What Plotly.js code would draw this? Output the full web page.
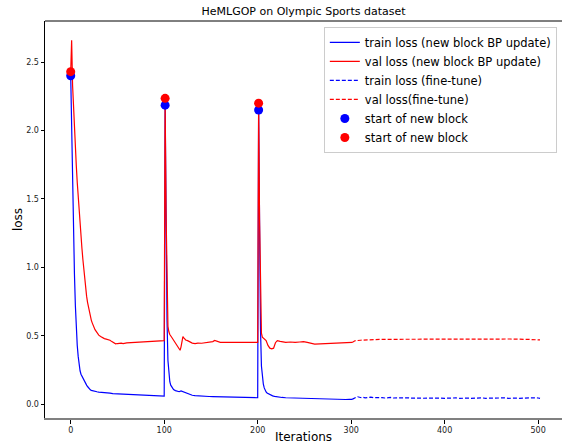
<!DOCTYPE html>
<html>
<head>
<meta charset="utf-8">
<script src="https://cdn.plot.ly/plotly-3.0.1.min.js"></script>
<style>html,body{margin:0;padding:0;background:#fff;}#chart{width:562px;height:444px;}</style>
</head>
<body>
<div id="chart"></div>
<script>
// ---- data ----
const trainBPIter = [0,1,2,3,4,5,6,7,8,9,10,11,12,13,14,15,16,17,18,19,20,21,22,24,26,28,30,33,36,39,42,45,48,51,54,57,60,63,66,69,72,75,78,81,84,87,90,93,96,99,100,
  101,102,103,104,105,106,107,108,109,110,112,114,116,118,120,122,124,126,128,130,133,136,140,144,148,152,156,160,164,168,172,176,180,184,188,192,196,200,
  201,202,203,204,205,206,207,208,209,210,212,214,216,218,220,223,226,230,234,238,242,246,250,254,258,262,266,270,274,278,282,286,290,294,298,301];
const trainBPLoss = [2.40,1.95,1.55,1.22,0.95,0.72,0.55,0.43,0.35,0.29,0.245,0.22,0.205,0.195,0.185,0.17,0.155,0.14,0.13,0.12,0.112,0.106,0.102,0.097,0.094,0.092,0.089,0.088,0.085,0.083,0.082,0.078,0.077,0.075,0.074,0.072,0.071,0.068,0.069,0.066,0.067,0.064,0.063,0.064,0.062,0.061,0.062,0.060,0.061,0.059,0.060,
  2.185,1.25,0.62,0.32,0.21,0.165,0.14,0.125,0.115,0.108,0.100,0.095,0.092,0.098,0.092,0.086,0.080,0.074,0.070,0.066,0.063,0.061,0.059,0.058,0.057,0.056,0.055,0.055,0.054,0.056,0.053,0.052,0.051,0.052,0.050,0.049,0.050,0.048,
  2.15,1.20,0.55,0.28,0.19,0.15,0.12,0.10,0.09,0.082,0.074,0.068,0.062,0.058,0.055,0.052,0.050,0.048,0.047,0.046,0.045,0.044,0.044,0.043,0.042,0.040,0.038,0.036,0.037,0.035,0.036,0.035,0.036,0.035,0.037,0.036];

const valBPIter = [0,1,2,3,4,5,6,7,8,9,10,11,12,13,14,15,16,17,18,19,20,21,22,23,24,25,26,28,30,32,34,36,38,40,42,44,46,48,50,52,54,56,58,60,100,
  101,102,103,104,105,106,108,110,112,114,116,117,118,119,120,121,123,125,127,130,133,136,140,144,148,152,154,156,158,160,200,
  201,202,203,204,205,207,209,211,213,215,217,219,221,224,227,230,235,240,245,249,253,257,261,301];
const valBPLoss = [2.43,2.66,2.33,2.15,2.00,1.87,1.74,1.62,1.51,1.41,1.31,1.22,1.14,1.06,0.98,0.91,0.85,0.79,0.745,0.705,0.67,0.64,0.615,0.595,0.575,0.56,0.545,0.525,0.505,0.495,0.485,0.48,0.476,0.474,0.468,0.458,0.448,0.442,0.444,0.448,0.447,0.443,0.447,0.449,0.465,
  2.235,1.40,0.75,0.57,0.53,0.51,0.49,0.47,0.45,0.43,0.41,0.395,0.42,0.47,0.495,0.485,0.47,0.465,0.458,0.447,0.443,0.447,0.446,0.45,0.451,0.458,0.466,0.46,0.455,0.453,0.453,
  2.20,1.35,0.70,0.52,0.49,0.475,0.465,0.43,0.41,0.405,0.41,0.45,0.465,0.46,0.455,0.453,0.455,0.452,0.455,0.458,0.452,0.445,0.44,0.452];

const trainFTIter = [301,303,305,307,309,311,313,315,318,321,324,327,330,333,336,339,342,345,348,351,354,357,360,364,368,372,376,380,384,388,392,396,400,404,408,412,416,420,424,428,432,436,440,444,448,452,456,460,464,468,472,476,480,484,488,492,496,500,502];
const trainFTLoss = [0.036,0.045,0.050,0.055,0.050,0.048,0.051,0.047,0.049,0.052,0.048,0.050,0.047,0.049,0.046,0.048,0.050,0.046,0.047,0.045,0.047,0.046,0.048,0.045,0.047,0.046,0.044,0.047,0.045,0.046,0.048,0.045,0.044,0.046,0.045,0.047,0.044,0.046,0.045,0.044,0.046,0.045,0.047,0.044,0.045,0.046,0.044,0.045,0.047,0.044,0.046,0.045,0.044,0.046,0.047,0.045,0.048,0.046,0.043];

const valFTIter = [301,304,310,320,330,350,370,390,410,430,450,470,490,502];
const valFTLoss = [0.452,0.464,0.468,0.472,0.474,0.475,0.476,0.477,0.479,0.478,0.479,0.477,0.474,0.470];

const blockStartIter = [0,101,201];
const blockStartTrain = [2.40,2.185,2.15];
const blockStartVal = [2.43,2.235,2.20];

const xTicks = [0,100,200,300,400,500];
const yTicks = [0.0,0.5,1.0,1.5,2.0,2.5];

const BLUE = '#0000ff', RED = '#ff0000';
const traces = [
  {x: trainBPIter, y: trainBPLoss, mode: 'lines', name: 'train loss (new block BP update)', line: {color: BLUE, width: 1.2}},
  {x: valBPIter, y: valBPLoss, mode: 'lines', name: 'val loss (new block BP update)', line: {color: RED, width: 1.2}},
  {x: trainFTIter, y: trainFTLoss, mode: 'lines', name: 'train loss (fine-tune)', line: {color: BLUE, width: 1.2, dash: '4px,2px'}},
  {x: valFTIter, y: valFTLoss, mode: 'lines', name: 'val loss(fine-tune)', line: {color: RED, width: 1.2, dash: '4px,2px'}},
  {x: blockStartIter, y: blockStartTrain, mode: 'markers', name: 'start of new block', marker: {color: BLUE, size: 9}},
  {x: blockStartIter, y: blockStartVal, mode: 'markers', name: 'start of new block', marker: {color: RED, size: 9}}
];

const layout = {
  width: 562, height: 444,
  margin: {l: 45, r: 0, t: 21, b: 26},
  paper_bgcolor: '#fff', plot_bgcolor: '#fff',
  font: {family: 'DejaVu Sans, sans-serif', color: '#000'},
  title: {text: 'HeMLGOP on Olympic Sports dataset', font: {size: 11, color: '#000'}, x: 0.5, xref: 'paper', y: 0.975, yref: 'container', yanchor: 'middle'},
  xaxis: {
    range: [-27.5, 525.5], tickvals: xTicks, ticktext: xTicks.map(String),
    ticks: 'outside', ticklen: 3.5, tickwidth: 1, tickcolor: '#000',
    tickfont: {size: 8, color: '#222'},
    showgrid: false, zeroline: false, showline: true, linecolor: '#808080', linewidth: 2,
    title: {text: 'Iterations', font: {size: 12, color: '#000'}, standoff: 2},
    automargin: false
  },
  yaxis: {
    range: [-0.1, 2.8], tickvals: yTicks, ticktext: yTicks.map(v => v.toFixed(1)),
    ticks: 'outside', ticklen: 3.5, tickwidth: 1, tickcolor: '#000',
    tickfont: {size: 8, color: '#222'},
    showgrid: false, zeroline: false, showline: true, linecolor: '#000', linewidth: 1,
    title: {text: 'loss', font: {size: 12, color: '#000'}, standoff: 0},
    automargin: true
  },
  shapes: [{type: 'line', xref: 'paper', yref: 'paper', x0: 0, x1: 1, y0: 1, y1: 1, line: {color: '#000', width: 1}}],
  legend: {
    x: 0.99, y: 0.985, xanchor: 'right', yanchor: 'top',
    bgcolor: 'rgba(255,255,255,0.8)', bordercolor: '#cccccc', borderwidth: 1,
    font: {size: 11.5, color: '#000'}, itemwidth: 30
  },
  showlegend: true
};

Plotly.newPlot('chart', traces, layout, {displayModeBar: false, staticPlot: true});
</script>
</body>
</html>
